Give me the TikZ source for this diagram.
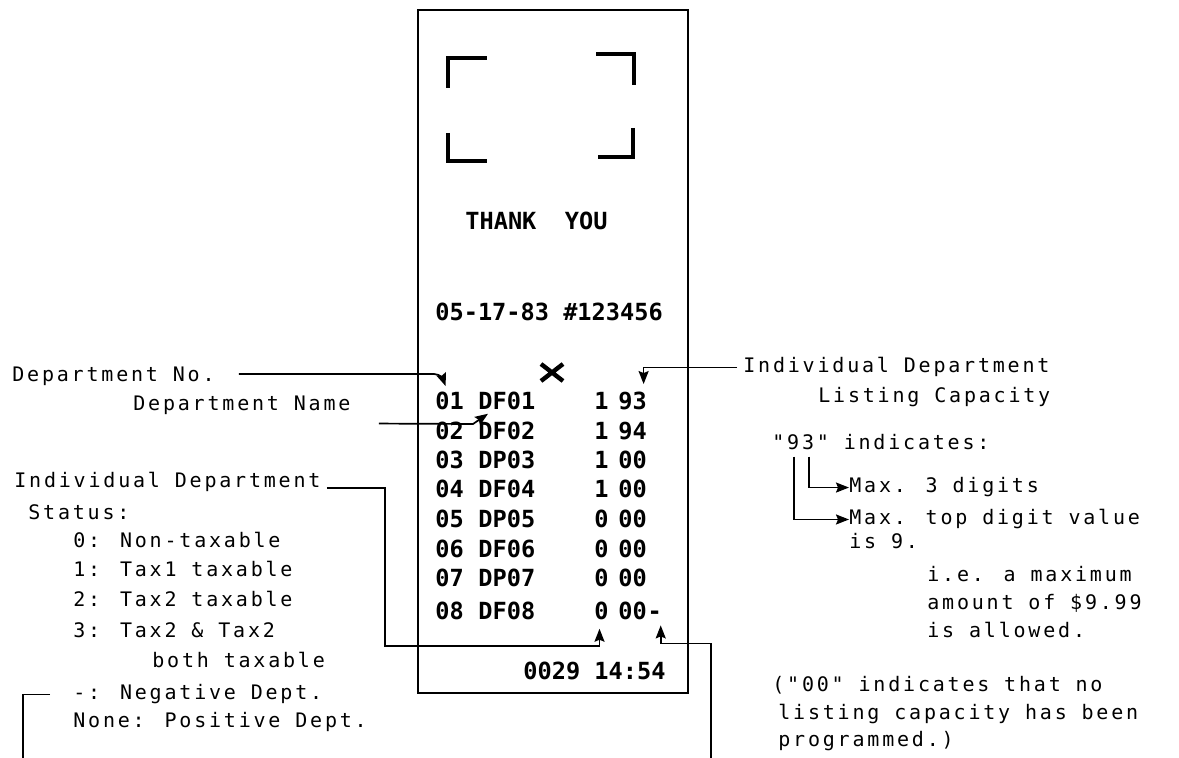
\documentclass[tikz,border=0pt]{standalone}
\usepackage{fontspec}
\usepackage{tikz}
\usetikzlibrary{arrows.meta}
\newfontfamily\notefont[LetterSpace=14,Ligatures=TeXOff]{DejaVu Sans Mono}
\newfontfamily\slipfont[Ligatures=TeXOff]{DejaVu Sans Mono}
\tikzset{
  notetext/.style={anchor=base west, inner sep=0pt, font=\notefont\fontsize{10}{12}\selectfont},
  sliptext/.style={anchor=base west, inner sep=0pt, font=\slipfont\bfseries\fontsize{11.8}{14}\selectfont},
  pointer/.style={line width=0.85pt},
  cornermark/.style={line width=2pt}
}

\begin{document}
\begin{tikzpicture}[x=0.5pt, y=-0.5pt, >={Stealth[length=6.5pt, width=5pt, inset=1pt]}]
    \useasboundingbox (0,0) rectangle (1179,758);

    \draw[line width=1.1pt] (418,10) rectangle (688,693);
    \draw[cornermark] (448,88) -- (448,58) -- (487,58)
                      (596,54) -- (634,54) -- (634,85)
                      (448,133) -- (448,161) -- (487,161)
                      (633,128) -- (633,157) -- (598,157);
    \draw[line width=2.2pt] (541,364) -- (563,381) (541,381) -- (563,364);

    \node[sliptext] (thanks) at (465,230) {THANK\ \ YOU};
    \node[sliptext] (stamp) at (435,321) {05-17-83 \#123456};
    \foreach \rno/\rname/\rst/\rcap/\ry in {01/DF01/1/93/410, 02/DF02/1/94/440, 03/DP03/1/00/469, 04/DF04/1/00/498,
        05/DP05/0/00/528, 06/DF06/0/00/558, 07/DP07/0/00/587, 08/DF08/0/00/620} {
      \node[sliptext] (no\rno) at (435,\ry) {\rno};
      \node[sliptext] (nm\rno) at (478,\ry) {\rname};
      \node[sliptext] (st\rno) at (594,\ry) {\rst};
      \node[sliptext] (cap\rno) at (618,\ry) {\rcap};
    }
    \node[sliptext] (neg08) at (cap08.base east) {-};
    \node[sliptext] (clock) at (523,680) {0029 14:54};

    \node[notetext] (dno) at (12,382) {Department No.};
    \node[notetext] (dname) at (133,411) {Department Name};
    \node[notetext] (ind) at (14,488) {Individual Department};
    \node[notetext] (stat) at (28,520) {Status:};
    \node[notetext] (st0) at (73,548) {0: Non-taxable};
    \node[notetext] (st1) at (73,577) {1: Tax1 taxable};
    \node[notetext] (st2) at (73,607) {2: Tax2 taxable};
    \node[notetext] (st3) at (73,638) {3: Tax2 \& Tax2};
    \node[notetext] (st3b) at (152,668) {both taxable};
    \node[notetext] (negn) at (73,700) {-: Negative Dept.};
    \node[notetext] (posn) at (73,728) {None: Positive Dept.};

    \node[notetext] (ind2) at (743,373) {Individual Department};
    \node[notetext] (lcap) at (818,403) {Listing Capacity};
    \node[notetext] (n93) at (772,450) {"93" indicates:};
    \node[notetext] (max3) at (849,493) {Max. 3 digits};
    \node[notetext] (maxtop) at (849,525) {Max. top digit value};
    \node[notetext] (is9) at (849,549) {is 9.};
    \node[notetext] (ie) at (927,582) {i.e. a maximum};
    \node[notetext] (amt) at (927,610) {amount of \$9.99};
    \node[notetext] (allowed) at (927,638) {is allowed.};
    \node[notetext] (oo1) at (772,692) {("00" indicates that no};
    \node[notetext] (oo2) at (778,720) {listing capacity has been};
    \node[notetext] (oo3) at (778,747) {programmed.)};

    \coordinate (deptend) at (23,758);
    \coordinate (minusend) at (711,758);
    \coordinate (q9) at ([xshift=11pt,yshift=-3pt]n93.south west);
    \coordinate (q3) at ([xshift=18.5pt,yshift=-3pt]n93.south west);

    \draw[pointer,->] ([xshift=12pt,yshift=4pt]dno.base east) -- (434,374)
        to[out=0,in=110] ([xshift=-2pt,yshift=3pt]no01.north);
    \draw[pointer,->] ([xshift=14pt,yshift=-4pt]dname.south east) -- (473,424)
        -- ([xshift=5pt,yshift=-1.5pt]nm01.south west);
    \draw[pointer,->] ([xshift=3pt]ind.base east) -| (385,646) -| ([xshift=-1pt,yshift=-4pt]st08.south);
    \draw[pointer] ([xshift=-11.5pt]negn.west) -| (deptend);
    \draw[pointer,<-] ([xshift=3pt,yshift=-2.5pt]neg08.south) -- ++(0,18) -| (minusend);
    \draw[pointer,->] ([xshift=-3pt]ind2.west) -| ([xshift=5.5pt,yshift=4pt]cap01.north);
    \draw[pointer,->] (q3) |- (max3.west);
    \draw[pointer,->] (q9) |- (maxtop.west);
\end{tikzpicture}
\end{document}
